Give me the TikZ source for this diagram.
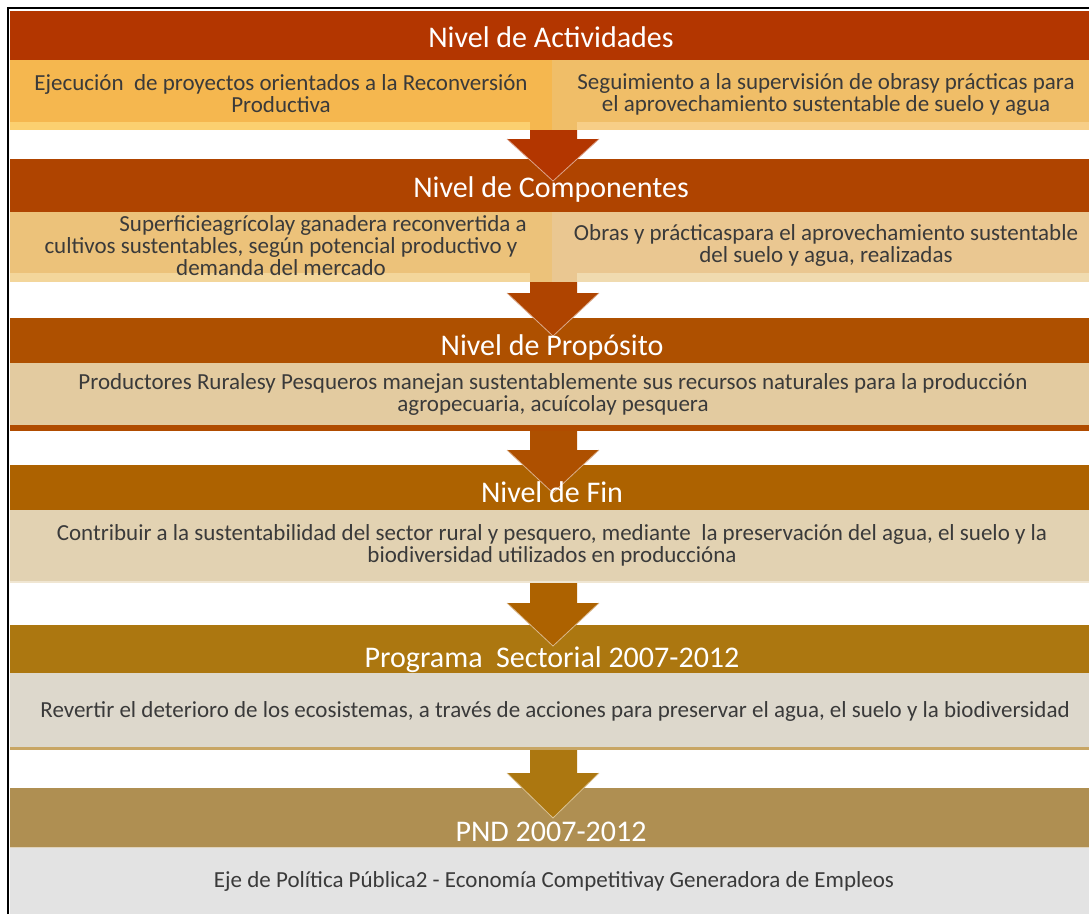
\documentclass[tikz,border=0pt]{standalone}
\usepackage{fontspec}
\setmainfont{Carlito}
\definecolor{hA}{RGB}{179,54,0}
\definecolor{hB}{RGB}{175,68,0}
\definecolor{hC}{RGB}{174,80,0}
\definecolor{hD}{RGB}{173,98,0}
\definecolor{hE}{RGB}{172,119,16}
\definecolor{hF}{RGB}{175,143,82}
\definecolor{sAL}{RGB}{245,183,79}
\definecolor{sAR}{RGB}{240,190,104}
\definecolor{tAL}{RGB}{251,208,112}
\definecolor{tAR}{RGB}{247,206,135}
\definecolor{sBL}{RGB}{236,194,122}
\definecolor{sBR}{RGB}{234,199,145}
\definecolor{tBL}{RGB}{243,214,155}
\definecolor{tBR}{RGB}{240,219,176}
\definecolor{sC}{RGB}{227,203,160}
\definecolor{stripC}{RGB}{176,76,0}
\definecolor{sD}{RGB}{226,210,178}
\definecolor{lineD}{RGB}{240,230,210}
\definecolor{sE}{RGB}{221,216,204}
\definecolor{lineE}{RGB}{200,166,100}
\definecolor{sF}{RGB}{227,227,227}
\definecolor{subtxt}{RGB}{58,58,58}
\newcommand{\blockarrow}[4]{%
  \fill[#1] (530,#2) -- (577,#2) -- (577,#3) -- (599,#3) -- (553,#4) -- (507,#3) -- (530,#3) -- cycle;
  \draw[#1!45!white, line width=0.8pt] (599,#3) -- (553,#4) -- (507,#3);
}
\begin{document}
\begin{tikzpicture}[x=1pt,y=-1pt,
  hdr/.style={text=white, font=\fontsize{30}{32}\selectfont, text height=19pt, text depth=0pt, inner sep=0pt},
  sub/.style={text=subtxt, font=\fontsize{23}{22}\selectfont, align=center, inner sep=0pt}]
\useasboundingbox (0,0) rectangle (1089,914);
\fill[white] (0,0) rectangle (1089,914);
% block 1
\fill[hA] (10,11) rectangle (1089,60);
\fill[sAL] (10,60) rectangle (552,130);
\fill[sAR] (552,60) rectangle (1089,130);
\fill[tAL] (10,122) rectangle (530,130);
\fill[tAR] (577,122) rectangle (1089,130);
% block 2
\fill[hB] (10,159) rectangle (1089,212);
\fill[sBL] (10,212) rectangle (552,282);
\fill[sBR] (552,212) rectangle (1089,282);
\fill[tBL] (10,273) rectangle (530,282);
\fill[tBR] (577,273) rectangle (1089,282);
% block 3
\fill[hC] (10,318) rectangle (1089,363);
\fill[sC] (10,363) rectangle (1089,431);
\fill[stripC] (10,425) rectangle (1089,431);
% block 4
\fill[hD] (10,465) rectangle (1089,510);
\fill[sD] (10,510) rectangle (1089,582);
\fill[lineD] (10,581) rectangle (1089,583);
% block 5
\fill[hE] (10,625) rectangle (1089,673);
\fill[sE] (10,673) rectangle (1089,748);
\fill[lineE] (10,747) rectangle (1089,750);
% block 6
\fill[hF] (10,788) rectangle (1089,847);
\fill[sF] (10,847) rectangle (1089,914);
\draw[hF!40!white, line width=0.8pt] (10,847) -- (1089,847);
% arrows
\blockarrow{hA}{130}{139}{181}
\blockarrow{hB}{282}{293}{336}
\blockarrow{hC}{431}{450}{493}
\blockarrow{hD}{583}{603}{646}
\blockarrow{hE}{750}{773}{818}
% border
\draw[line width=2.5pt] (8,914) -- (8,8) -- (1089,8);
% texts
\node[hdr] (n1) at (551,38) {Nivel de Actividades};
\node[sub] (a1) at (281,94) {Ejecución\ \ de proyectos orientados a la Reconversión\\Productiva};
\node[sub] (a2) at (826,94) {Seguimiento a la supervisión de obrasy prácticas para\\el aprovechamiento sustentable de suelo y agua};
\node[hdr] (n2) at (551,188) {Nivel de Componentes};
\node[sub] (b1) at (281,246) {\hspace*{84pt}Superficieagrícolay ganadera reconvertida a\\cultivos sustentables, según potencial productivo y\\demanda del mercado};
\node[sub] (b2) at (826,245) {Obras y prácticaspara el aprovechamiento sustentable\\del suelo y agua, realizadas};
\node[hdr] (n3) at (552,346) {Nivel de Propósito};
\node[sub] (c1) at (553,394) {Productores Ruralesy Pesqueros manejan sustentablemente sus recursos naturales para la producción\\agropecuaria, acuícolay pesquera};
\node[hdr] (n4) at (552,493) {Nivel de Fin};
\node[sub] (d1) at (552,545) {Contribuir a la sustentabilidad del sector rural y pesquero, mediante\ \ la preservación del agua, el suelo y la\\biodiversidad utilizados en produccióna};
\node[hdr] (n5) at (552,658) {Programa\ \ Sectorial 2007-2012};
\node[sub] (e1) at (555,711) {Revertir el deterioro de los ecosistemas, a través de acciones para preservar el agua, el suelo y la biodiversidad};
\node[hdr] (n6) at (551,832) {PND 2007-2012};
\node[sub] (f1) at (554,881) {Eje de Política Pública2 - Economía Competitivay Generadora de Empleos};
\end{tikzpicture}
\end{document}
